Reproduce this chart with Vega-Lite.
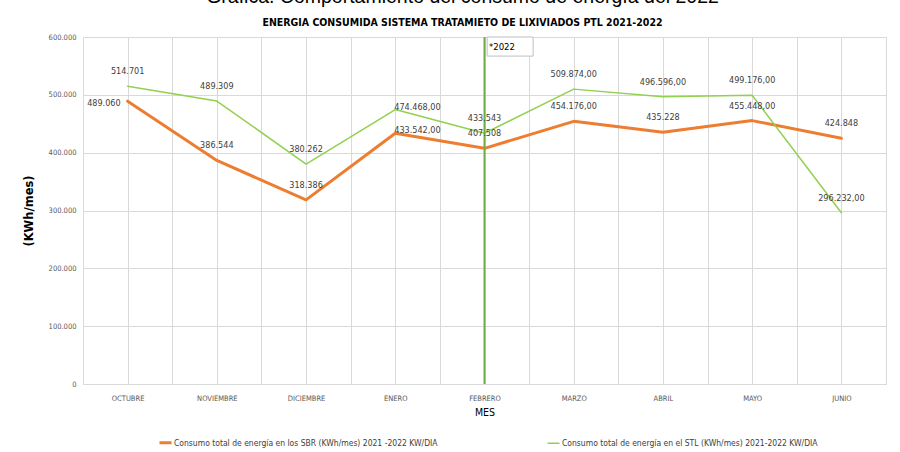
{
  "$schema": "https://vega.github.io/schema/vega-lite/v6.json",
  "width": 803,
  "height": 347,
  "autosize": {"type": "none"},
  "padding": {"left": 83, "top": 37, "right": 14, "bottom": 68},
  "background": "white",
  "config": {
    "locale": {"number": {"decimal": ",", "thousands": ".", "grouping": [3], "currency": ["", ""]}},
    "view": {"stroke": null},
    "font": "DejaVu Sans Condensed, sans-serif"
  },
  "title": {
    "text": "Gráfica. Comportamiento del consumo de energía del 2022",
    "subtitle": "ENERGIA CONSUMIDA SISTEMA TRATAMIETO DE LIXIVIADOS PTL 2021-2022",
    "anchor": "middle",
    "font": "Liberation Sans, Arial, sans-serif",
    "fontSize": 19.5,
    "fontWeight": "normal",
    "color": "#000000",
    "dx": -22,
    "subtitleFont": "DejaVu Sans Condensed, sans-serif",
    "subtitleFontSize": 10.5,
    "subtitleFontWeight": "bold",
    "subtitleColor": "#000000",
    "subtitlePadding": 10,
    "offset": 4
  },
  "data": {
    "values": [
      {"mes": "OCTUBRE", "idx": 0, "serie": "Consumo total de energía en los SBR (KWh/mes) 2021 -2022 KW/DIA", "valor": 489060, "etiqueta": "489.060"},
      {"mes": "NOVIEMBRE", "idx": 1, "serie": "Consumo total de energía en los SBR (KWh/mes) 2021 -2022 KW/DIA", "valor": 386544, "etiqueta": "386.544"},
      {"mes": "DICIEMBRE", "idx": 2, "serie": "Consumo total de energía en los SBR (KWh/mes) 2021 -2022 KW/DIA", "valor": 318386, "etiqueta": "318.386"},
      {"mes": "ENERO", "idx": 3, "serie": "Consumo total de energía en los SBR (KWh/mes) 2021 -2022 KW/DIA", "valor": 433542, "etiqueta": "433.542,00"},
      {"mes": "FEBRERO", "idx": 4, "serie": "Consumo total de energía en los SBR (KWh/mes) 2021 -2022 KW/DIA", "valor": 407508, "etiqueta": "407.508"},
      {"mes": "MARZO", "idx": 5, "serie": "Consumo total de energía en los SBR (KWh/mes) 2021 -2022 KW/DIA", "valor": 454176, "etiqueta": "454.176,00"},
      {"mes": "ABRIL", "idx": 6, "serie": "Consumo total de energía en los SBR (KWh/mes) 2021 -2022 KW/DIA", "valor": 435228, "etiqueta": "435.228"},
      {"mes": "MAYO", "idx": 7, "serie": "Consumo total de energía en los SBR (KWh/mes) 2021 -2022 KW/DIA", "valor": 455448, "etiqueta": "455.448,00"},
      {"mes": "JUNIO", "idx": 8, "serie": "Consumo total de energía en los SBR (KWh/mes) 2021 -2022 KW/DIA", "valor": 424848, "etiqueta": "424.848"},
      {"mes": "OCTUBRE", "idx": 0, "serie": "Consumo total de energía en el STL (KWh/mes) 2021-2022 KW/DIA", "valor": 514701, "etiqueta": "514.701"},
      {"mes": "NOVIEMBRE", "idx": 1, "serie": "Consumo total de energía en el STL (KWh/mes) 2021-2022 KW/DIA", "valor": 489309, "etiqueta": "489.309"},
      {"mes": "DICIEMBRE", "idx": 2, "serie": "Consumo total de energía en el STL (KWh/mes) 2021-2022 KW/DIA", "valor": 380262, "etiqueta": "380.262"},
      {"mes": "ENERO", "idx": 3, "serie": "Consumo total de energía en el STL (KWh/mes) 2021-2022 KW/DIA", "valor": 474468, "etiqueta": "474.468,00"},
      {"mes": "FEBRERO", "idx": 4, "serie": "Consumo total de energía en el STL (KWh/mes) 2021-2022 KW/DIA", "valor": 433543, "etiqueta": "433.543"},
      {"mes": "MARZO", "idx": 5, "serie": "Consumo total de energía en el STL (KWh/mes) 2021-2022 KW/DIA", "valor": 509874, "etiqueta": "509.874,00"},
      {"mes": "ABRIL", "idx": 6, "serie": "Consumo total de energía en el STL (KWh/mes) 2021-2022 KW/DIA", "valor": 496596, "etiqueta": "496.596,00"},
      {"mes": "MAYO", "idx": 7, "serie": "Consumo total de energía en el STL (KWh/mes) 2021-2022 KW/DIA", "valor": 499176, "etiqueta": "499.176,00"},
      {"mes": "JUNIO", "idx": 8, "serie": "Consumo total de energía en el STL (KWh/mes) 2021-2022 KW/DIA", "valor": 296232, "etiqueta": "296.232,00"}
    ]
  },
  "encoding": {
    "x": {
      "field": "idx", "type": "quantitative",
      "scale": {"domain": [-0.5, 8.5], "nice": false, "zero": false},
      "axis": {
        "values": [-0.5, 0, 0.5, 1, 1.5, 2, 2.5, 3, 3.5, 4, 4.5, 5, 5.5, 6, 6.5, 7, 7.5, 8, 8.5],
        "labelExpr": "datum.value % 1 == 0 ? ['OCTUBRE','NOVIEMBRE','DICIEMBRE','ENERO','FEBRERO','MARZO','ABRIL','MAYO','JUNIO'][datum.value] : ''",
        "title": "MES",
        "titleFontSize": 10.5,
        "titleFontWeight": "normal",
        "titleColor": "#000000",
        "titlePadding": 6,
        "labelFontSize": 7.5,
        "labelColor": "#595959",
        "labelPadding": 10,
        "ticks": false,
        "grid": true,
        "gridColor": "#D9D9D9",
        "gridWidth": 1,
        "domainColor": "#D9D9D9",
        "labelFlush": false,
        "labelOverlap": false
      }
    },
    "y": {
      "field": "valor", "type": "quantitative",
      "scale": {"domain": [0, 600000], "nice": false},
      "axis": {
        "values": [0, 100000, 200000, 300000, 400000, 500000, 600000],
        "format": ",d",
        "title": "(KWh/mes)",
        "titleFont": "DejaVu Sans, sans-serif",
        "titleFontSize": 11.5,
        "titleFontWeight": "bold",
        "titleColor": "#000000",
        "titlePadding": 14,
        "labelFontSize": 7.5,
        "labelColor": "#595959",
        "labelPadding": 7,
        "ticks": false,
        "domain": false,
        "grid": true,
        "gridColor": "#D9D9D9",
        "gridWidth": 1
      }
    }
  },
  "layer": [
    {
      "mark": {"type": "line", "strokeCap": "round", "strokeJoin": "round"},
      "encoding": {
        "color": {
          "field": "serie", "type": "nominal",
          "scale": {
            "domain": ["Consumo total de energía en los SBR (KWh/mes) 2021 -2022 KW/DIA", "Consumo total de energía en el STL (KWh/mes) 2021-2022 KW/DIA"],
            "range": ["#ED7D31", "#92D050"]
          },
          "legend": {
            "title": null,
            "orient": "none",
            "legendX": 75,
            "legendY": 398,
            "direction": "horizontal",
            "columns": 2,
            "columnPadding": 106,
            "symbolType": "stroke",
            "symbolSize": 144,
            "symbolStrokeWidth": 3,
            "labelFontSize": 8.5,
            "labelColor": "#404040",
            "labelLimit": 400,
            "symbolOffset": 0,
            "labelOffset": 1
          }
        },
        "strokeWidth": {
          "field": "serie", "type": "nominal",
          "scale": {
            "domain": ["Consumo total de energía en los SBR (KWh/mes) 2021 -2022 KW/DIA", "Consumo total de energía en el STL (KWh/mes) 2021-2022 KW/DIA"],
            "range": [3, 1.5]
          },
          "legend": null
        }
      }
    },
    {
      "transform": [{"filter": "datum.idx == 4 && datum.valor == 407508"}],
      "mark": {"type": "rule", "color": "#70AD47", "strokeWidth": 2},
      "encoding": {
        "x": {"datum": 4},
        "y": {"datum": 0},
        "y2": {"datum": 600000}
      }
    },
    {
      "transform": [{"filter": "datum.idx == 4 && datum.valor == 407508"}],
      "mark": {"type": "rect", "fill": "#FFFFFF", "stroke": "#BFBFBF", "strokeWidth": 1},
      "encoding": {
        "x": {"datum": 4.03},
        "x2": {"datum": 4.545},
        "y": {"datum": 600000},
        "y2": {"datum": 567000}
      }
    },
    {
      "transform": [{"filter": "datum.idx == 4 && datum.valor == 407508"}],
      "mark": {"type": "text", "text": "*2022", "align": "left", "baseline": "middle", "fontSize": 9.5, "color": "#000000"},
      "encoding": {
        "x": {"datum": 4.05},
        "y": {"datum": 582000}
      }
    },
    {
      "transform": [{"filter": "!((datum.idx == 0 && datum.valor == 489060) || datum.idx == 3)"}],
      "mark": {"type": "text", "align": "center", "baseline": "middle", "dy": -15, "fontSize": 9, "color": "#404040"},
      "encoding": {"text": {"field": "etiqueta"}}
    },
    {
      "transform": [{"filter": "datum.idx == 0 && datum.valor == 489060"}],
      "mark": {"type": "text", "align": "right", "baseline": "middle", "dx": -7, "dy": 2, "fontSize": 9, "color": "#404040"},
      "encoding": {"text": {"field": "etiqueta"}}
    },
    {
      "transform": [{"filter": "datum.idx == 3"}],
      "mark": {"type": "text", "align": "left", "baseline": "middle", "dx": -1, "dy": -3, "fontSize": 9, "color": "#404040"},
      "encoding": {"text": {"field": "etiqueta"}}
    }
  ]
}
